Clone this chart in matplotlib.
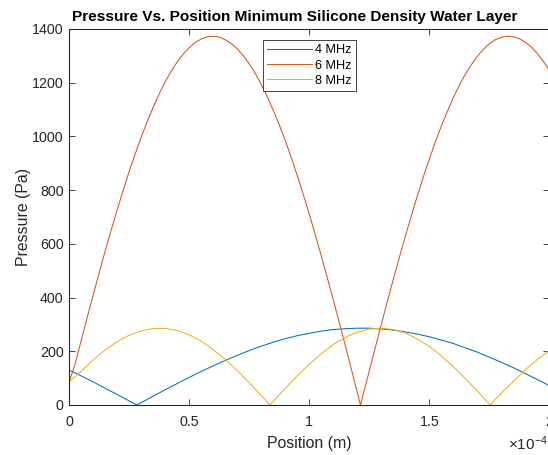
import numpy as np
import matplotlib
matplotlib.use('Agg')
import matplotlib.pyplot as plt
from matplotlib.ticker import FuncFormatter

plt.rcParams['font.family'] = ['Liberation Sans', 'DejaVu Sans']
plt.rcParams['mathtext.fontset'] = 'custom'
plt.rcParams['mathtext.rm'] = 'Liberation Sans'
plt.rcParams['mathtext.it'] = 'Liberation Sans:italic'

# positions in units of 1e-4 m, pressures in Pa
pos_4mhz = [0.00, 0.05, 0.10, 0.15, 0.20, 0.25, 0.281, 0.30, 0.35, 0.40, 0.45,
            0.50, 0.55, 0.60, 0.65, 0.70, 0.75, 0.80, 0.85, 0.90, 0.95, 1.00,
            1.05, 1.10, 1.15, 1.20, 1.25, 1.30, 1.35, 1.40, 1.45, 1.50, 1.55,
            1.60, 1.65, 1.70, 1.75, 1.80, 1.85, 1.90, 1.95, 2.00]
p_4mhz = [130, 108, 86, 62, 39, 15, 0, 9, 33, 57, 80,
          103, 125, 146, 166, 185, 203, 219, 234, 247, 258, 267,
          275, 281, 284, 286, 286, 283, 279, 272, 264, 254, 242,
          229, 213, 197, 178, 159, 139, 117, 95, 72]

pos_6mhz = [0.000, 0.025, 0.050, 0.075, 0.100, 0.125, 0.150, 0.175, 0.200,
            0.225, 0.250, 0.275, 0.300, 0.325, 0.350, 0.375, 0.400, 0.425,
            0.450, 0.475, 0.500, 0.525, 0.550, 0.575, 0.600, 0.625, 0.650,
            0.675, 0.700, 0.725, 0.750, 0.775, 0.800, 0.825, 0.850, 0.875,
            0.900, 0.925, 0.950, 0.975, 1.000, 1.025, 1.050, 1.075, 1.100,
            1.125, 1.150, 1.175, 1.200, 1.213, 1.250, 1.275, 1.300, 1.325,
            1.350, 1.375, 1.400, 1.425, 1.450, 1.475, 1.500, 1.525, 1.550,
            1.575, 1.600, 1.625, 1.650, 1.675, 1.700, 1.725, 1.750, 1.775,
            1.800, 1.825, 1.850, 1.875, 1.900, 1.925, 1.950, 1.975, 2.000]
p_6mhz = [87, 155, 242, 327, 411, 494, 575, 653, 728,
          801, 871, 936, 998, 1056, 1110, 1159, 1204, 1243,
          1278, 1307, 1331, 1350, 1363, 1371, 1373, 1370, 1360,
          1346, 1326, 1301, 1270, 1234, 1193, 1148, 1097, 1043,
          984, 921, 854, 784, 710, 634, 555, 474, 391,
          307, 221, 134, 47, 0, 127, 214, 300, 385,
          468, 549, 628, 704, 778, 849, 915, 979, 1038,
          1093, 1144, 1190, 1231, 1267, 1298, 1324, 1345, 1360,
          1369, 1373, 1371, 1364, 1351, 1333, 1309, 1280, 1246]

pos_8mhz = [0.00, 0.05, 0.10, 0.15, 0.20, 0.25, 0.30, 0.35, 0.40, 0.45, 0.50,
            0.55, 0.60, 0.65, 0.70, 0.75, 0.80, 0.836, 0.85, 0.90, 0.95, 1.00,
            1.05, 1.10, 1.15, 1.20, 1.25, 1.30, 1.35, 1.40, 1.45, 1.50, 1.55,
            1.60, 1.65, 1.70, 1.753, 1.80, 1.85, 1.90, 1.95, 2.00]
p_8mhz = [87, 126, 168, 205, 236, 260, 276, 285, 285, 277, 261,
          237, 206, 170, 128, 83, 35, 0, 14, 62, 109, 152,
          191, 225, 252, 271, 283, 286, 281, 268, 246, 218, 183,
          143, 99, 52, 0, 44, 88, 131, 169, 203]

labels = ['4 MHz', '6 MHz', '8 MHz']
colors = ['#0072BD', '#D95319', '#EDB120']

fig = plt.figure(figsize=(5.48, 4.55), dpi=100)
ax = fig.add_axes([69.3 / 548, 50 / 455, 480 / 548, 376 / 455])

for xs, ys, lab, col in zip([pos_4mhz, pos_6mhz, pos_8mhz],
                            [p_4mhz, p_6mhz, p_8mhz], labels, colors):
    ax.plot(np.array(xs) * 1e-4, ys, color=col, lw=0.75, label=lab)

ax.set_xlim(0, 2e-4)
ax.set_ylim(0, 1400)
ax.set_xticks(np.array([0, 0.5, 1, 1.5, 2]) * 1e-4)
ax.set_yticks(range(0, 1401, 200))
ax.xaxis.set_major_formatter(FuncFormatter(lambda v, _: f'{v / 1e-4:g}'))

ax.tick_params(direction='in', length=4.3, width=0.6, colors='#262626',
               labelsize=10.3, top=True, right=True, pad=4)
ax.tick_params(axis='x', pad=7)
for s in ax.spines.values():
    s.set_color('#262626')
    s.set_linewidth(0.8)

ax.set_xlabel('Position (m)', fontsize=11.4, color='#262626', labelpad=5)
ax.set_ylabel('Pressure (Pa)', fontsize=11.4, color='#262626', labelpad=1)
ax.set_title('Pressure Vs. Position Minimum Silicone Density Water Layer',
             fontsize=11.05, fontweight='bold', pad=6, x=0.469)

# exponent label, as MATLAB puts it under the right end of the x axis
fig.text(1.0, 1 - 450 / 455, r'$\times\mathregular{10^{-4}}$', ha='right',
         va='baseline', fontsize=11, color='#262626')

leg = ax.legend(loc='upper left', bbox_to_anchor=(0.4035, 0.9707),
                borderaxespad=0, fontsize=9.2, handlelength=3.5,
                handletextpad=0.2, labelspacing=0.25, borderpad=0.35,
                fancybox=False, framealpha=1)
leg.get_frame().set_edgecolor('#262626')
leg.get_frame().set_linewidth(0.6)

fig.savefig('out.png', dpi=100)
